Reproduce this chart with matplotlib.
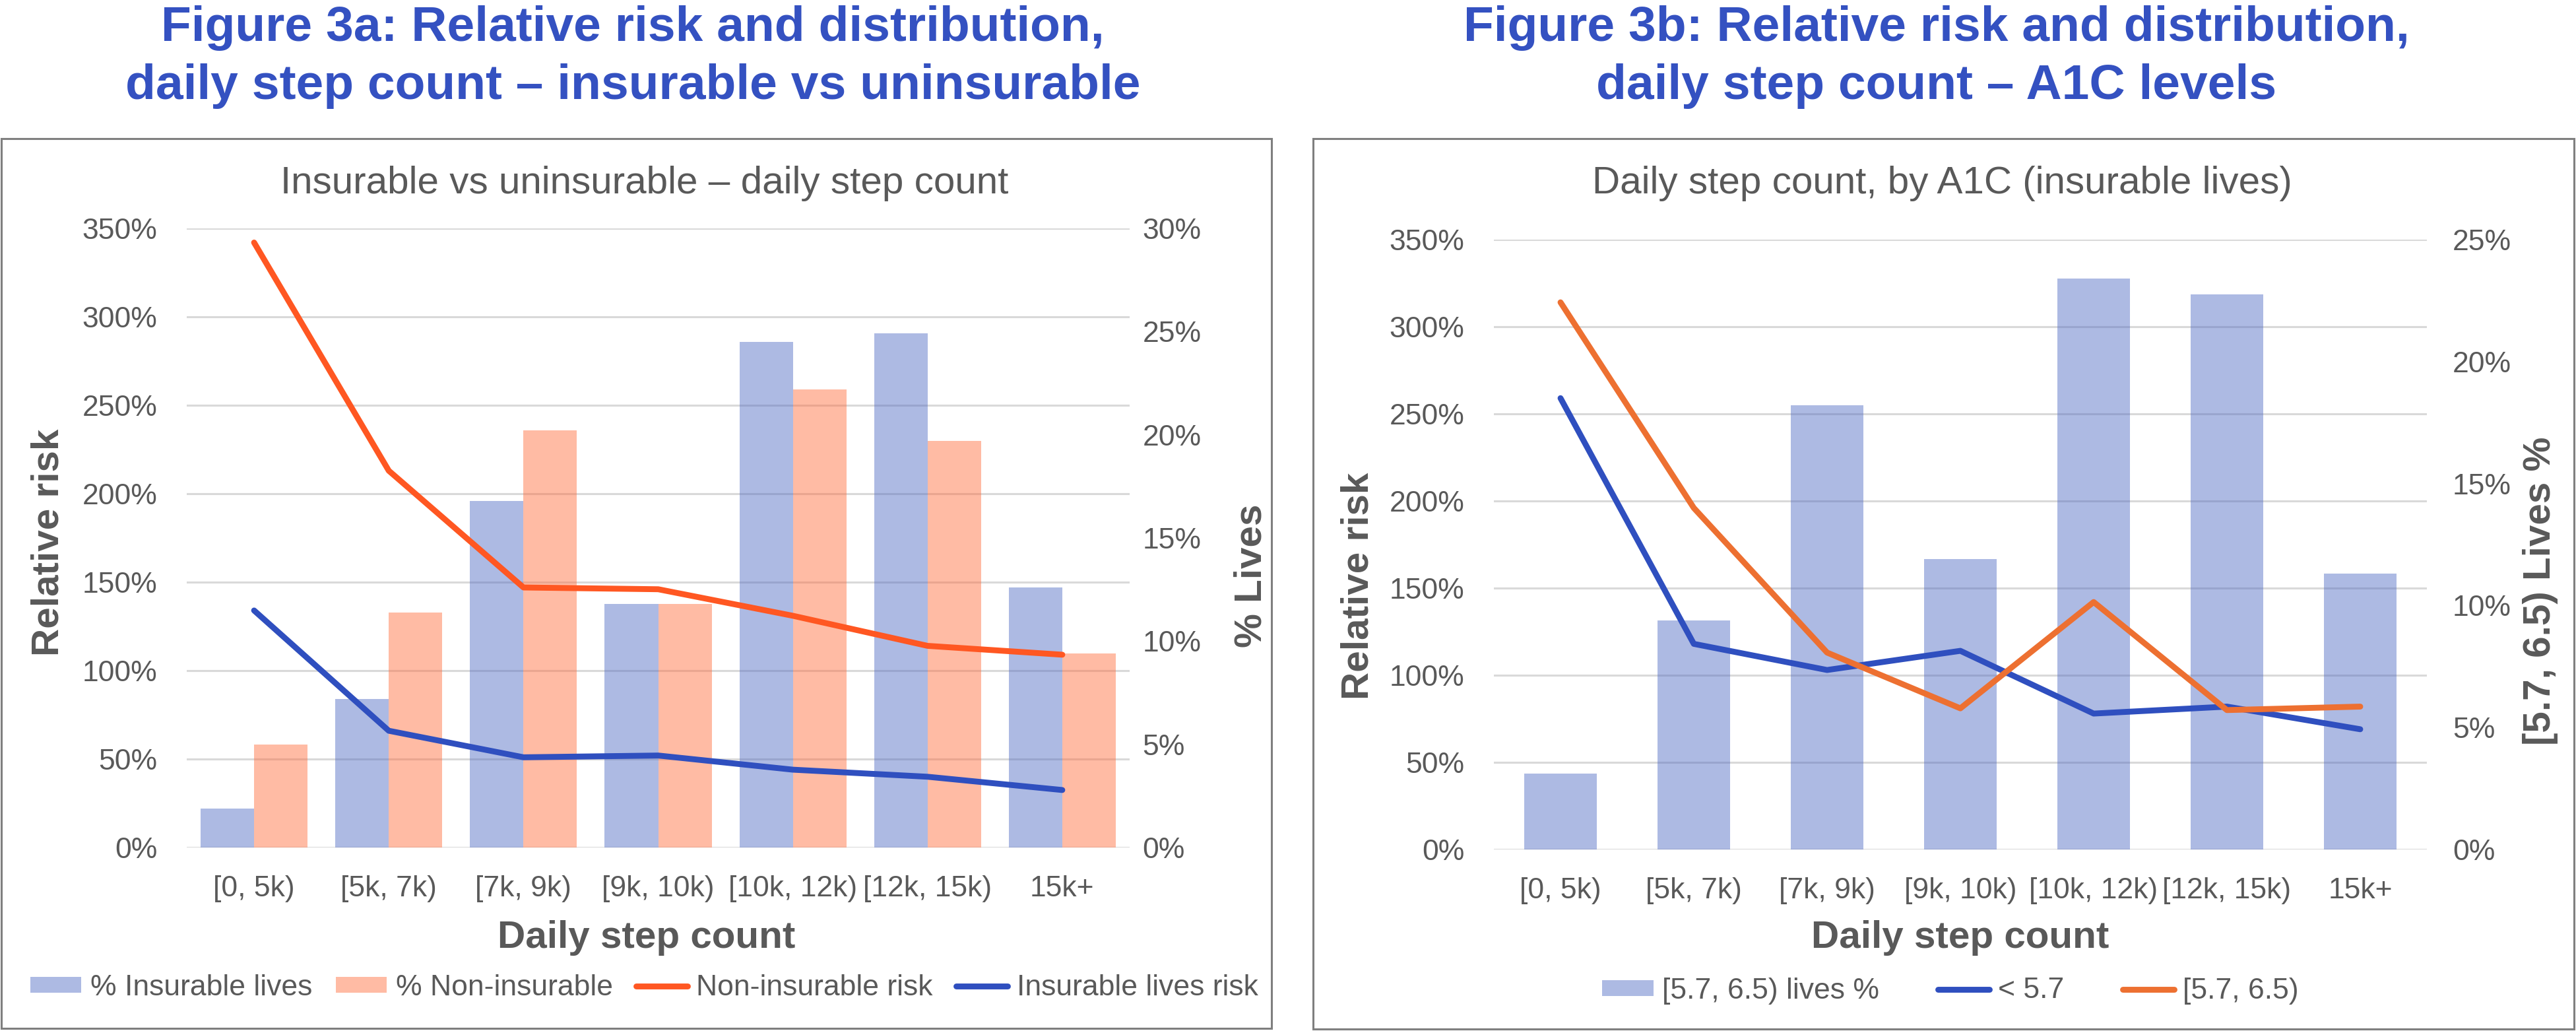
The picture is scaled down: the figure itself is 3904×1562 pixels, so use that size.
import matplotlib
matplotlib.use('Agg')
import matplotlib.pyplot as plt
from matplotlib.patches import Rectangle, Patch
from matplotlib.lines import Line2D
from matplotlib.ticker import FuncFormatter
import numpy as np

plt.rcParams['font.family'] = ['Liberation Sans', 'DejaVu Sans']

# ---------------- data ----------------
categories = ['[0, 5k)', '[5k, 7k)', '[7k, 9k)', '[9k, 10k)', '[10k, 12k)', '[12k, 15k)', '15k+']

# Figure 3a
pct_insurable = [1.9, 7.2, 16.8, 11.8, 24.5, 24.9, 12.6]
pct_noninsurable = [5.0, 11.4, 20.2, 11.8, 22.2, 19.7, 9.4]
risk_noninsurable = [342, 213, 147, 146, 131, 114, 109]
risk_insurable = [134, 66, 51, 52, 44, 40, 32.5]

# Figure 3b
pct_a1c_mid = [3.1, 9.4, 18.2, 11.9, 23.4, 22.75, 11.3]
risk_a1c_low = [259, 118, 103, 114, 78, 82, 69]
risk_a1c_mid = [314, 196, 113, 81, 142, 80, 82]

left_ticks = [0, 50, 100, 150, 200, 250, 300, 350]
right_ticks_a = [0, 5, 10, 15, 20, 25, 30]
right_ticks_b = [0, 5, 10, 15, 20, 25]

# ---------------- styling ----------------
W, H, DPI = 3904, 1562, 200
GRAY = '#595959'
TITLE_BLUE = '#3451C1'
BAR_BLUE = '#4B66C1'
BAR_ORANGE = '#FF6837'
LINE_RED = '#FF5722'
LINE_BLUE = '#2F4FBF'
LINE_ORANGE = '#ED7031'

fig = plt.figure(figsize=(W / DPI, H / DPI), dpi=DPI)


def fx(px):
    return px / W


def fy(py):
    return 1 - py / H


def pct_fmt(v, pos):
    return f'{v:.0f}%'


def make_axes(x0, x1, ytop, ybot, rmax, rticks, rpad):
    rect = [fx(x0), fy(ybot), (x1 - x0) / W, (ybot - ytop) / H]
    ax = fig.add_axes(rect)            # grid + left ticks + category labels
    axb = ax.twinx()                   # bars, right ticks
    axl = ax.twinx()                   # lines, left scale
    ax.set_zorder(0)
    axb.set_zorder(1)
    axl.set_zorder(2)
    for a in (axb, axl):
        a.patch.set_visible(False)
    for a in (ax, axb, axl):
        for s in a.spines.values():
            s.set_visible(False)
    ax.set_xlim(-0.5, len(categories) - 0.5)
    ax.set_ylim(0, 350)
    axl.set_ylim(0, 350)
    axb.set_ylim(0, rmax)
    ax.set_yticks(left_ticks)
    ax.yaxis.set_major_formatter(FuncFormatter(pct_fmt))
    ax.tick_params(axis='y', length=0, pad=16, labelsize=16, labelcolor=GRAY)
    ax.yaxis.grid(True, color='#d9d9d9', lw=1.1)
    ax.set_axisbelow(True)
    axb.set_yticks(rticks)
    axb.yaxis.set_major_formatter(FuncFormatter(pct_fmt))
    axb.tick_params(axis='y', length=0, pad=rpad, labelsize=16, labelcolor=GRAY)
    axl.set_yticks([])
    ax.set_xticks(range(len(categories)))
    ax.set_xticklabels(categories)
    ax.tick_params(axis='x', length=0, pad=15, labelsize=16, labelcolor=GRAY)
    return ax, axb, axl


# ---------------- Figure 3a ----------------
ax, axb, axl = make_axes(283, 1712, 346, 1284, 30, right_ticks_a, 7)
x = np.arange(len(categories))
w = 0.397
axb.bar(x - w, pct_insurable, width=w, align='edge', color=BAR_BLUE, alpha=0.45, lw=0)
axb.bar(x, pct_noninsurable, width=w, align='edge', color=BAR_ORANGE, alpha=0.45, lw=0)
axl.plot(x, risk_noninsurable, color=LINE_RED, lw=3.2, solid_joinstyle='round', solid_capstyle='round')
axl.plot(x, risk_insurable, color=LINE_BLUE, lw=3.2, solid_joinstyle='round', solid_capstyle='round')

handles_a = [
    Patch(facecolor=BAR_BLUE, alpha=0.45, lw=0, label='% Insurable lives'),
    Patch(facecolor=BAR_ORANGE, alpha=0.45, lw=0, label='% Non-insurable'),
    Line2D([], [], color=LINE_RED, lw=3.2, solid_capstyle='round', label='Non-insurable risk'),
    Line2D([], [], color=LINE_BLUE, lw=3.2, solid_capstyle='round', label='Insurable lives risk'),
]
fig.legend(handles=handles_a, loc='center', bbox_to_anchor=(fx(976), fy(1496)), ncol=4,
           frameon=False, fontsize=16, handlelength=1.75, handletextpad=0.3,
           columnspacing=0.8, handleheight=0.45, labelcolor=GRAY)

# ---------------- Figure 3b ----------------
ax2, axb2, axl2 = make_axes(2264, 3678, 363, 1287, 25, right_ticks_b, 14)
axb2.bar(x, pct_a1c_mid, width=0.54, color=BAR_BLUE, alpha=0.45, lw=0)
axl2.plot(x, risk_a1c_low, color=LINE_BLUE, lw=3.2, solid_joinstyle='round', solid_capstyle='round')
axl2.plot(x, risk_a1c_mid, color=LINE_ORANGE, lw=3.2, solid_joinstyle='round', solid_capstyle='round')

handles_b = [
    Patch(facecolor=BAR_BLUE, alpha=0.45, lw=0, label='[5.7, 6.5) lives %'),
    Line2D([], [], color=LINE_BLUE, lw=3.2, solid_capstyle='round', label='< 5.7'),
    Line2D([], [], color=LINE_ORANGE, lw=3.2, solid_capstyle='round', label='[5.7, 6.5)'),
]
fig.legend(handles=handles_b, loc='center', bbox_to_anchor=(fx(2956), fy(1501)), ncol=3,
           frameon=False, fontsize=16, handlelength=1.75, handletextpad=0.3,
           columnspacing=2.0, handleheight=0.45, labelcolor=GRAY)

# ---------------- boxes ----------------
for (bx0, by0, bx1, by1) in [(2, 210, 1927, 1558), (1990, 210, 3901, 1559)]:
    fig.patches.append(Rectangle((fx(bx0), fy(by1)), (bx1 - bx0) / W, (by1 - by0) / H,
                                 transform=fig.transFigure, fill=False,
                                 edgecolor='#7f7f7f', lw=1.1, zorder=0))

# ---------------- texts ----------------
tkw = dict(ha='center', va='baseline', fontsize=27, fontweight='bold', color=TITLE_BLUE)
fig.text(fx(959), fy(62), 'Figure 3a: Relative risk and distribution,', **tkw)
fig.text(fx(959), fy(150), 'daily step count \u2013 insurable vs uninsurable', **tkw)
fig.text(fx(2935), fy(62), 'Figure 3b: Relative risk and distribution,', **tkw)
fig.text(fx(2935), fy(150), 'daily step count \u2013 A1C levels', **tkw)

fig.text(fx(977), fy(278), 'Insurable vs uninsurable \u2013 daily step count', ha='center', va='center',
         fontsize=21, color=GRAY)
fig.text(fx(2943), fy(278), 'Daily step count, by A1C (insurable lives)', ha='center', va='center',
         fontsize=21, color=GRAY)

lkw = dict(ha='center', va='center', fontsize=21, fontweight='bold', color=GRAY)
fig.text(fx(980), fy(1421), 'Daily step count', **lkw)
fig.text(fx(2971), fy(1421), 'Daily step count', **lkw)
fig.text(fx(74), fy(822), 'Relative risk', rotation=90, **lkw)
fig.text(fx(1896), fy(872), '% Lives', rotation=90, **lkw)
fig.text(fx(2059), fy(888), 'Relative risk', rotation=90, **lkw)
fig.text(fx(3850), fy(895), '[5.7, 6.5) Lives %', rotation=90, **lkw)

fig.savefig('out.png', dpi=DPI, facecolor='white')
